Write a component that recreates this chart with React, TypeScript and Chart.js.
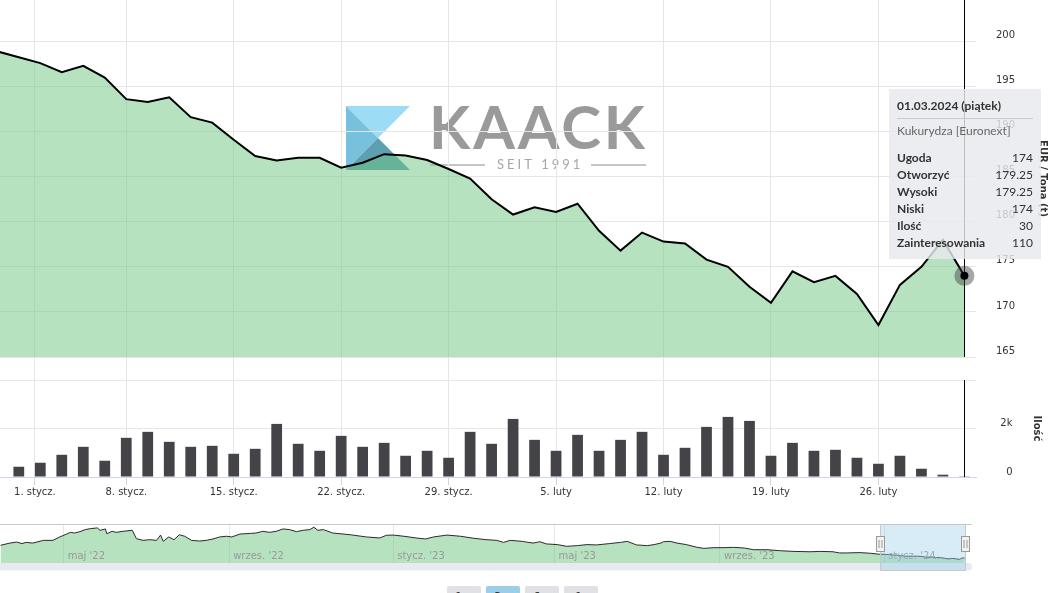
import React, { useEffect, useRef } from 'react';
import { Chart, registerables } from 'chart.js';

Chart.register(...registerables);

// ---------------- data ----------------
const tradeDates = [
  '2023-12-28', '2023-12-29',
  '2024-01-02', '2024-01-03', '2024-01-04', '2024-01-05',
  '2024-01-08', '2024-01-09', '2024-01-10', '2024-01-11', '2024-01-12',
  '2024-01-15', '2024-01-16', '2024-01-17', '2024-01-18', '2024-01-19',
  '2024-01-22', '2024-01-23', '2024-01-24', '2024-01-25', '2024-01-26',
  '2024-01-29', '2024-01-30', '2024-01-31', '2024-02-01', '2024-02-02',
  '2024-02-05', '2024-02-06', '2024-02-07', '2024-02-08', '2024-02-09',
  '2024-02-12', '2024-02-13', '2024-02-14', '2024-02-15', '2024-02-16',
  '2024-02-19', '2024-02-20', '2024-02-21', '2024-02-22', '2024-02-23',
  '2024-02-26', '2024-02-27', '2024-02-28', '2024-02-29', '2024-03-01',
];

const closePrices = [
  198.9, 198.25,
  197.6, 196.6, 197.3, 196.0,
  193.6, 193.3, 193.8, 191.6, 191.0,
  189.1, 187.3, 186.8, 187.1, 187.1,
  186.0, 186.55, 187.5, 187.35, 186.85,
  185.85, 184.8, 182.5, 180.8, 181.6,
  181.1, 182.0, 179.0, 176.8, 178.8,
  177.8, 177.6, 175.8, 175.0, 172.8,
  171.0, 174.5, 173.3, 174.0, 172.0,
  168.55, 173.0, 175.0, 178.0, 174.0,
];

const volumes = [
  null, 423,
  588, 916, 1245, 670,
  1615, 1862, 1450, 1245, 1286,
  957, 1162, 2190, 1369, 1081,
  1697, 1245, 1409, 876, 1081,
  793, 1862, 1369, 2395, 1532,
  1081, 1738, 1081, 1532, 1862,
  916, 1204, 2067, 2478, 2313,
  876, 1409, 1081, 1122, 793,
  546, 876, 341, 95, 30,
];

const xTickDates = ['2024-01-01', '2024-01-08', '2024-01-15', '2024-01-22', '2024-01-29', '2024-02-05', '2024-02-12', '2024-02-19', '2024-02-26'];
const xTickLabels = ['1. stycz.', '8. stycz.', '15. stycz.', '22. stycz.', '29. stycz.', '5. luty', '12. luty', '19. luty', '26. luty'];

const priceTicks = [165, 170, 175, 180, 185, 190, 195, 200];
const volumeTicks = [0, 2000, 4000];
const volumeTickLabels = ['0', '2k', ''];

const priceAxisTitle = 'EUR / Tona (t)';
const volumeAxisTitle = 'Ilość';

// tooltip of the last session
const tooltipTitle = '01.03.2024 (piątek)';
const seriesName = 'Kukurydza [Euronext]';
const tooltipLabels = ['Ugoda', 'Otworzyć', 'Wysoki', 'Niski', 'Ilość', 'Zainteresowania'];
const lastOpen = 179.25;
const lastHigh = 179.25;
const lastLow = 174;
const lastOpenInterest = 110;

// navigator history (days since 2022-01-01, EUR/t)
const navDayOffsets = [
  73, 80, 85, 89, 92, 97, 105, 112, 117, 121, 125, 128, 132, 136, 140, 145, 147, 151, 152, 156,
  159, 164, 171, 174, 179, 184, 189, 192, 194, 198, 202, 206, 210, 215, 221, 226, 231, 236, 241, 245,
  251, 259, 263, 268, 273, 278, 283, 288, 293, 298, 303, 306, 309, 313, 320, 333, 345, 355, 360, 365,
  373, 382, 389, 395, 405, 415, 425, 434, 442, 447, 452, 461, 464, 469, 474, 479, 487, 494, 502, 509,
  516, 526, 534, 539, 546, 554, 559, 564, 566, 571, 576, 583, 591, 596, 603, 611, 618, 626, 633, 643,
  653, 663, 675, 683, 692, 697, 702, 712, 720,
];
const navValues = [
  251, 264, 270, 261, 268, 264, 280, 280, 300, 313, 327, 323, 331, 343, 349, 353, 339, 347, 319, 333,
  327, 333, 339, 290, 280, 284, 280, 311, 274, 300, 284, 313, 304, 280, 276, 280, 288, 300, 304, 300,
  317, 321, 323, 333, 327, 333, 347, 343, 331, 339, 343, 357, 339, 343, 323, 313, 300, 294, 310, 311,
  304, 294, 288, 300, 311, 304, 292, 284, 280, 268, 280, 274, 270, 264, 272, 259, 255, 245, 249, 255,
  253, 261, 268, 274, 253, 249, 255, 264, 272, 274, 264, 255, 239, 233, 237, 237, 239, 235, 225, 225,
  219, 215, 213, 215, 213, 206, 206, 208, 204,
];

const navTickDates = ['2022-05-01', '2022-09-01', '2023-01-01', '2023-05-01', '2023-09-01', '2024-01-01'];
const navTickLabels = ["maj '22", "wrzes. '22", "stycz. '23", "maj '23", "wrzes. '23", "stycz. '24"];

const rangeButtons = ['1m', '3m', '6m', '1r'];
const selectedButton = 1;

// ---------------- helpers ----------------
const DAY = 86400000;
const dayOf = (s: string) => {
  const [y, m, d] = s.split('-').map(Number);
  return (Date.UTC(y, m - 1, d) - Date.UTC(2022, 0, 1)) / DAY;
};
const tradeDays = tradeDates.map(dayOf);
const fractionalIndex = (s: string) => {
  const t = dayOf(s);
  for (let j = 0; j < tradeDays.length - 1; j++) {
    if (t >= tradeDays[j] && t < tradeDays[j + 1]) {
      return j + (t - tradeDays[j]) / (tradeDays[j + 1] - tradeDays[j]);
    }
  }
  return tradeDays.length - 1;
};
const xTickPositions = xTickDates.map(fractionalIndex);
const navTickDays = navTickDates.map(dayOf);

// visible window (trading-day index) and navigator window (days)
const X_MIN = 0.125;
const X_MAX = 45.54;
const NAV_MIN = 72.6;
const NAV_MAX = 795.4;

const GREEN = 'rgba(111,197,129,0.5)';
const GRID = '#e6e6e6';
const AXIS_FONT = "'DejaVu Sans', sans-serif";
const fmt = (v: number) => String(v);

function drawLogo(ctx: CanvasRenderingContext2D) {
  ctx.save();
  const tri = (pts: number[], color: string) => {
    ctx.beginPath();
    ctx.moveTo(pts[0], pts[1]);
    ctx.lineTo(pts[2], pts[3]);
    ctx.lineTo(pts[4], pts[5]);
    ctx.closePath();
    ctx.fillStyle = color;
    ctx.fill();
  };
  tri([346, 106, 410, 106, 378, 138], '#9ddcf5');
  tri([346, 106, 378, 138, 346, 170], '#78c1dc');
  tri([346, 170, 378, 138, 410, 170], '#5f9fb2');
  ctx.fillStyle = '#9a9a9a';
  ctx.font = "bold 60px Lato, 'DejaVu Sans', sans-serif";
  (ctx as any).letterSpacing = '3px';
  ctx.textBaseline = 'alphabetic';
  ctx.textAlign = 'left';
  ctx.fillText('KAACK', 429, 149);
  ctx.font = '13px Lato, sans-serif';
  (ctx as any).letterSpacing = '3px';
  ctx.fillStyle = '#a6a6a6';
  ctx.textBaseline = 'middle';
  ctx.fillText('SEIT 1991', 497, 165);
  (ctx as any).letterSpacing = '0px';
  ctx.strokeStyle = '#b3b3b3';
  ctx.lineWidth = 1.5;
  ctx.beginPath();
  ctx.moveTo(430, 165);
  ctx.lineTo(485, 165);
  ctx.moveTo(591, 165);
  ctx.lineTo(646, 165);
  ctx.stroke();
  ctx.restore();
}

function drawVerticalTitle(ctx: CanvasRenderingContext2D, text: string, x: number, y: number) {
  ctx.save();
  ctx.translate(x, y);
  ctx.rotate(Math.PI / 2);
  ctx.font = `bold 10px ${AXIS_FONT}`;
  ctx.fillStyle = '#333';
  ctx.textAlign = 'center';
  ctx.textBaseline = 'middle';
  ctx.fillText(text, 0, 0);
  ctx.restore();
}

export default function App() {
  const priceRef = useRef<HTMLCanvasElement>(null);
  const volRef = useRef<HTMLCanvasElement>(null);
  const navRef = useRef<HTMLCanvasElement>(null);

  useEffect(() => {
    document.body.style.margin = '0';
    Chart.defaults.font.family = AXIS_FONT;
    Chart.defaults.font.size = 10;

    const last = closePrices.length - 1;

    const pricePlugin = {
      id: 'pricePane',
      beforeDraw(chart: any) {
        drawLogo(chart.ctx);
      },
      afterDraw(chart: any) {
        const ctx = chart.ctx as CanvasRenderingContext2D;
        const xs = chart.scales.x;
        const ys = chart.scales.y;
        const ca = chart.chartArea;
        const px = xs.getPixelForValue(last);
        const py = ys.getPixelForValue(closePrices[last]);
        const paneBottom = ys.getPixelForValue(priceTicks[0]);
        drawVerticalTitle(ctx, priceAxisTitle, 1043, (ca.top + paneBottom) / 2);
        ctx.save();
        ctx.strokeStyle = '#000';
        ctx.lineWidth = 1;
        ctx.beginPath();
        ctx.moveTo(Math.round(px) + 0.5, ca.top);
        ctx.lineTo(Math.round(px) + 0.5, paneBottom);
        ctx.stroke();
        ctx.fillStyle = 'rgba(60,60,60,0.45)';
        ctx.beginPath();
        ctx.arc(px, py, 10, 0, Math.PI * 2);
        ctx.fill();
        ctx.fillStyle = '#000';
        ctx.beginPath();
        ctx.arc(px, py, 4, 0, Math.PI * 2);
        ctx.fill();

        // tooltip
        const bx = Math.round(px) - 75;
        const by = Math.round(py) - 187;
        const bw = 152;
        const bh = 170;
        ctx.fillStyle = 'rgba(230,233,238,0.82)';
        ctx.fillRect(bx, by, bw, bh);
        ctx.textBaseline = 'middle';
        ctx.textAlign = 'left';
        ctx.fillStyle = '#333';
        ctx.font = 'bold 12px Lato, sans-serif';
        ctx.fillText(tooltipTitle, bx + 8, by + 17);
        ctx.strokeStyle = '#c9cbd0';
        ctx.beginPath();
        ctx.moveTo(bx + 8, by + 29.5);
        ctx.lineTo(bx + 144, by + 29.5);
        ctx.stroke();
        ctx.font = '12px Lato, sans-serif';
        ctx.fillStyle = '#666';
        ctx.fillText(seriesName, bx + 8, by + 42);
        const values = [
          fmt(closePrices[last]),
          fmt(lastOpen),
          fmt(lastHigh),
          fmt(lastLow),
          fmt(volumes[last] as number),
          fmt(lastOpenInterest),
        ];
        tooltipLabels.forEach((lab, k) => {
          const y = by + 69 + k * 17;
          ctx.textAlign = 'left';
          ctx.font = 'bold 12px Lato, sans-serif';
          ctx.fillStyle = '#333';
          ctx.fillText(lab, bx + 8, y);
          ctx.textAlign = 'right';
          ctx.font = '12px Lato, sans-serif';
          ctx.fillText(values[k], bx + 144, y);
        });
        ctx.restore();
      },
    };

    const priceChart = new Chart(priceRef.current as HTMLCanvasElement, {
      type: 'line',
      data: {
        datasets: [
          {
            data: closePrices.map((v, i) => ({ x: i, y: v })),
            borderColor: '#000',
            borderWidth: 2,
            backgroundColor: GREEN,
            fill: { value: priceTicks[0] },
            pointRadius: 0,
            tension: 0,
          },
        ],
      },
      options: {
        animation: false,
        responsive: false,
        maintainAspectRatio: false,
        events: [],
        layout: { padding: { left: 0, top: 0, bottom: 0, right: 39 } },
        plugins: { legend: { display: false }, tooltip: { enabled: false } },
        scales: {
          x: {
            type: 'linear',
            min: X_MIN,
            max: X_MAX,
            afterBuildTicks: (s: any) => {
              s.ticks = xTickPositions.map((v) => ({ value: v }));
            },
            ticks: { display: false },
            grid: { color: GRID, drawTicks: false },
            border: { display: false },
            afterFit: (s: any) => {
              s.height = 0;
              s.paddingLeft = 0;
              s.paddingRight = 0;
            },
          },
          y: {
            position: 'right',
            min: 162.45,
            max: 204.6,
            afterBuildTicks: (s: any) => {
              s.ticks = priceTicks.map((v) => ({ value: v }));
            },
            ticks: {
              color: '#333',
              font: { size: 10, family: AXIS_FONT },
              padding: 0,
              crossAlign: 'far',
              labelOffset: -6,
            },
            grid: { color: GRID, drawTicks: false },
            border: { display: false },
            afterFit: (s: any) => {
              s.width = 39;
              s.paddingTop = 0;
              s.paddingBottom = 0;
            },
          },
        },
      } as any,
      plugins: [pricePlugin],
    });

    const volPlugin = {
      id: 'volPane',
      afterDraw(chart: any) {
        const ctx = chart.ctx as CanvasRenderingContext2D;
        const ca = chart.chartArea;
        const px = chart.scales.x.getPixelForValue(last);
        drawVerticalTitle(ctx, volumeAxisTitle, 1037, (ca.top + ca.bottom) / 2);
        ctx.save();
        ctx.strokeStyle = '#000';
        ctx.lineWidth = 1;
        ctx.beginPath();
        ctx.moveTo(Math.round(px) + 0.5, ca.top);
        ctx.lineTo(Math.round(px) + 0.5, ca.bottom);
        ctx.stroke();
        ctx.restore();
      },
    };

    const volChart = new Chart(volRef.current as HTMLCanvasElement, {
      type: 'bar',
      data: {
        datasets: [
          {
            data: volumes
              .map((v, i) => ({ x: i, y: v }))
              .filter((p) => p.y !== null) as any,
            backgroundColor: '#434348',
            barPercentage: 0.5,
            categoryPercentage: 1,
          },
        ],
      },
      options: {
        animation: false,
        responsive: false,
        maintainAspectRatio: false,
        events: [],
        layout: { padding: { left: 0, top: 0, bottom: 0, right: 41.5 } },
        plugins: { legend: { display: false }, tooltip: { enabled: false } },
        scales: {
          x: {
            type: 'linear',
            offset: false,
            min: X_MIN,
            max: X_MAX,
            afterBuildTicks: (s: any) => {
              s.ticks = xTickPositions.map((v) => ({ value: v }));
            },
            ticks: {
              callback: (_v: any, i: number) => xTickLabels[i],
              color: '#333',
              font: { size: 10, family: AXIS_FONT },
              padding: 1,
              maxRotation: 0,
              minRotation: 0,
              autoSkip: false,
            },
            grid: { color: GRID, tickColor: '#ccd6eb', tickLength: 8, offset: false },
            border: { color: '#ccd6eb' },
            afterFit: (s: any) => {
              s.height = 33;
              s.paddingLeft = 0;
              s.paddingRight = 0;
            },
          },
          y: {
            position: 'right',
            min: 0,
            max: 4000,
            afterBuildTicks: (s: any) => {
              s.ticks = volumeTicks.map((v) => ({ value: v }));
            },
            ticks: {
              callback: (_v: any, i: number) => volumeTickLabels[i],
              color: '#333',
              font: { size: 10, family: AXIS_FONT },
              padding: 0,
              crossAlign: 'far',
              labelOffset: -5,
            },
            grid: { color: GRID, drawTicks: false },
            border: { display: false },
            afterFit: (s: any) => {
              s.width = 36.5;
              s.paddingTop = 0;
              s.paddingBottom = 0;
            },
          },
        },
      } as any,
      plugins: [volPlugin],
    });

    const navPoints = navDayOffsets
      .map((d, i) => ({ x: d, y: navValues[i] }))
      .concat(tradeDays.map((d, i) => ({ x: d, y: closePrices[i] })));

    const navPlugin = {
      id: 'navPane',
      afterDraw(chart: any) {
        const ctx = chart.ctx as CanvasRenderingContext2D;
        const xs = chart.scales.x;
        const ca = chart.chartArea;
        ctx.save();
        // month labels
        ctx.font = `10px ${AXIS_FONT}`;
        ctx.fillStyle = '#999';
        ctx.textAlign = 'left';
        ctx.textBaseline = 'middle';
        navTickDays.forEach((d, k) => {
          ctx.fillText(navTickLabels[k], xs.getPixelForValue(d) + 4, ca.bottom - 7);
        });
        // scrollbar track
        const trackH = 7.5;
        ctx.fillStyle = '#e7eaef';
        ctx.beginPath();
        (ctx as any).roundRect(-4, ca.bottom, ca.right + 4, trackH, 3.5);
        ctx.fill();
        // selected range mask
        const mx1 = Math.round(xs.getPixelForValue(tradeDays[1])) + 0.5;
        const mx2 = Math.round(xs.getPixelForValue(tradeDays[tradeDays.length - 1])) + 0.5;
        ctx.fillStyle = 'rgba(150,205,235,0.38)';
        ctx.fillRect(mx1, ca.top, mx2 - mx1, ca.bottom - ca.top + trackH);
        // outline
        ctx.strokeStyle = '#c8c8c8';
        ctx.lineWidth = 1;
        ctx.beginPath();
        ctx.moveTo(ca.left, ca.top + 0.5);
        ctx.lineTo(ca.right, ca.top + 0.5);
        ctx.moveTo(mx1, ca.top);
        ctx.lineTo(mx1, ca.bottom + trackH);
        ctx.lineTo(mx2, ca.bottom + trackH);
        ctx.lineTo(mx2, ca.top);
        ctx.stroke();
        // handles
        [mx1, mx2].forEach((hx) => {
          ctx.fillStyle = '#f2f2f2';
          ctx.strokeStyle = '#999';
          ctx.fillRect(hx - 4, 12.5, 8, 15);
          ctx.strokeRect(hx - 4, 12.5, 8, 15);
          ctx.beginPath();
          ctx.moveTo(hx - 1.5, 16);
          ctx.lineTo(hx - 1.5, 24);
          ctx.moveTo(hx + 1.5, 16);
          ctx.lineTo(hx + 1.5, 24);
          ctx.stroke();
        });
        ctx.restore();
      },
    };

    const navChart = new Chart(navRef.current as HTMLCanvasElement, {
      type: 'line',
      data: {
        datasets: [
          {
            data: navPoints,
            borderColor: '#2a2a2a',
            borderWidth: 1,
            backgroundColor: GREEN,
            fill: 'start',
            pointRadius: 0,
            tension: 0,
          },
        ],
      },
      options: {
        animation: false,
        responsive: false,
        maintainAspectRatio: false,
        events: [],
        layout: { padding: { left: 0, right: 82, top: 0, bottom: 0 } },
        plugins: { legend: { display: false }, tooltip: { enabled: false } },
        scales: {
          x: {
            type: 'linear',
            min: NAV_MIN,
            max: NAV_MAX,
            afterBuildTicks: (s: any) => {
              s.ticks = navTickDays.map((v) => ({ value: v }));
            },
            ticks: { display: false },
            grid: { color: GRID, drawTicks: false },
            border: { display: false },
            afterFit: (s: any) => {
              s.height = 9;
              s.paddingLeft = 0;
              s.paddingRight = 0;
            },
          },
          y: { display: false, min: 147, max: 376 },
        },
      } as any,
      plugins: [navPlugin],
    });

    return () => {
      priceChart.destroy();
      volChart.destroy();
      navChart.destroy();
    };
  }, []);

  return (
    <div
      style={{
        position: 'fixed',
        left: 0,
        top: 0,
        width: 1054,
        height: 593,
        overflow: 'hidden',
        background: '#fff',
      }}
    >
      <canvas
        ref={priceRef}
        width={1054}
        height={380}
        style={{ position: 'absolute', left: 0, top: 0, width: 1054, height: 380 }}
      />
      <canvas
        ref={volRef}
        width={1054}
        height={130}
        style={{ position: 'absolute', left: 0, top: 380, width: 1054, height: 130 }}
      />
      <canvas
        ref={navRef}
        width={1054}
        height={48}
        style={{ position: 'absolute', left: 0, top: 524, width: 1054, height: 48 }}
      />
      {rangeButtons.map((b, k) => (
        <div
          key={b}
          style={{
            position: 'absolute',
            left: 447 + k * 39,
            top: 586,
            width: 34,
            height: 22,
            boxSizing: 'border-box',
            paddingTop: 4,
            background: k === selectedButton ? '#9bcfe9' : '#e0e1e5',
            borderRadius: 2,
            fontFamily: AXIS_FONT,
            fontSize: 11,
            lineHeight: '14px',
            color: '#333',
            textAlign: 'center',
          }}
        >
          {b}
        </div>
      ))}
    </div>
  );
}
